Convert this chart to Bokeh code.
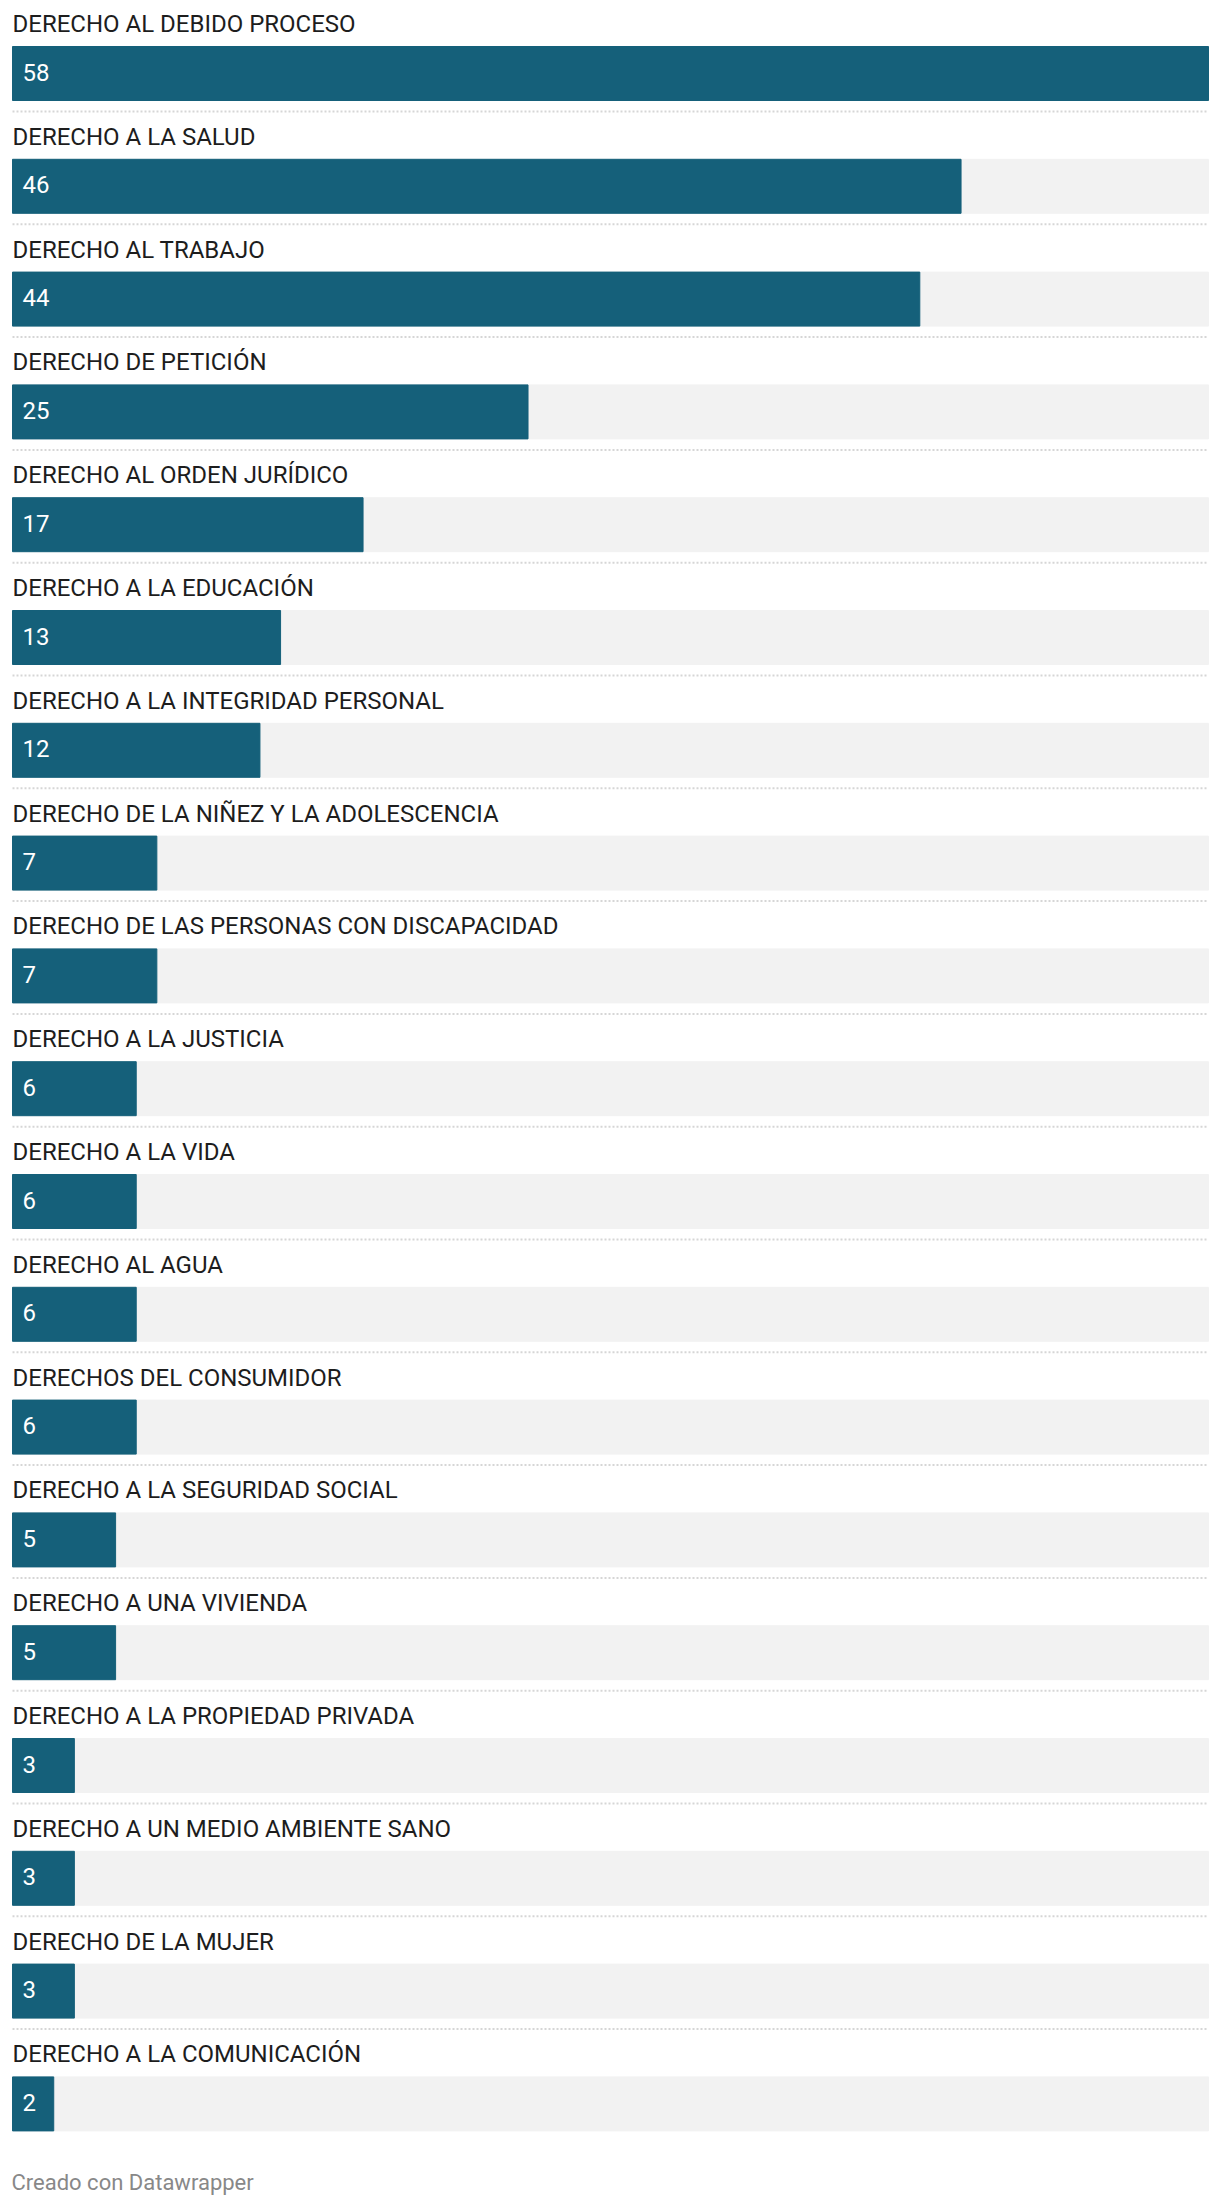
from bokeh.plotting import figure
from bokeh.models import Range1d
from bokeh.core.properties import value
from bokeh.embed import file_html
from bokeh.resources import INLINE

categories = [
    "DERECHO AL DEBIDO PROCESO",
    "DERECHO A LA SALUD",
    "DERECHO AL TRABAJO",
    "DERECHO DE PETICIÓN",
    "DERECHO AL ORDEN JURÍDICO",
    "DERECHO A LA EDUCACIÓN",
    "DERECHO A LA INTEGRIDAD PERSONAL",
    "DERECHO DE LA NIÑEZ Y LA ADOLESCENCIA",
    "DERECHO DE LAS PERSONAS CON DISCAPACIDAD",
    "DERECHO A LA JUSTICIA",
    "DERECHO A LA VIDA",
    "DERECHO AL AGUA",
    "DERECHOS DEL CONSUMIDOR",
    "DERECHO A LA SEGURIDAD SOCIAL",
    "DERECHO A UNA VIVIENDA",
    "DERECHO A LA PROPIEDAD PRIVADA",
    "DERECHO A UN MEDIO AMBIENTE SANO",
    "DERECHO DE LA MUJER",
    "DERECHO A LA COMUNICACIÓN",
]
values = [58, 46, 44, 25, 17, 13, 12, 7, 7, 6, 6, 6, 6, 5, 5, 3, 3, 3, 2]
value_labels = [str(v) for v in values]
footer = "Creado con Datawrapper"

W, H = 1220, 2208
LEFT, RIGHT = 12, 1208
PITCH = 112.8
BAR_TOP0 = 46
BAR_H = 54

n = len(values)
rows = list(range(n))
vmax = max(values)
ppu = (RIGHT - LEFT) / vmax
x_start = -LEFT / ppu
x_end = (W - LEFT) / ppu

c0 = BAR_TOP0 + BAR_H / 2
y_top = -c0 / PITCH
y_bottom = (H - c0) / PITCH

p = figure(width=W, height=H, x_range=Range1d(x_start, x_end),
           y_range=Range1d(y_bottom, y_top), output_backend="svg",
           toolbar_location=None, min_border=0,
           x_axis_location=None, y_axis_location=None)
p.grid.visible = False
p.outline_line_color = None
p.background_fill_color = "white"
p.border_fill_color = "white"

bh = BAR_H / PITCH
p.hbar(y=rows, left=0, right=[vmax] * n, height=bh, color="#f2f2f2")
p.hbar(y=rows, left=0, right=values, height=bh, color="#15607a")

font = value("Roboto")
p.text(x=[0] * n, y=[r - 49.5 / PITCH for r in rows], text=categories,
       text_font=font, text_font_size="24px", text_color="#1d1d1d",
       text_baseline="middle", text_align="left")
p.text(x=[10 / ppu] * n, y=[r - 1.5 / PITCH for r in rows], text=value_labels,
       text_font=font, text_font_size="24px", text_color="white",
       text_baseline="middle", text_align="left")

sep_y = [r + (BAR_H / 2 + 11) / PITCH for r in rows[:-1]]
p.segment(x0=[0] * (n - 1), x1=[vmax] * (n - 1), y0=sep_y, y1=sep_y,
          line_color="#d6d6d6", line_width=2, line_dash="2 2")

p.text(x=[-1 / ppu], y=[(2181.5 - c0) / PITCH], text=[footer],
       text_font=font, text_font_size="22px", text_color="#888888",
       text_baseline="middle", text_align="left")

open("out.html", "w").write(file_html(p, INLINE))
